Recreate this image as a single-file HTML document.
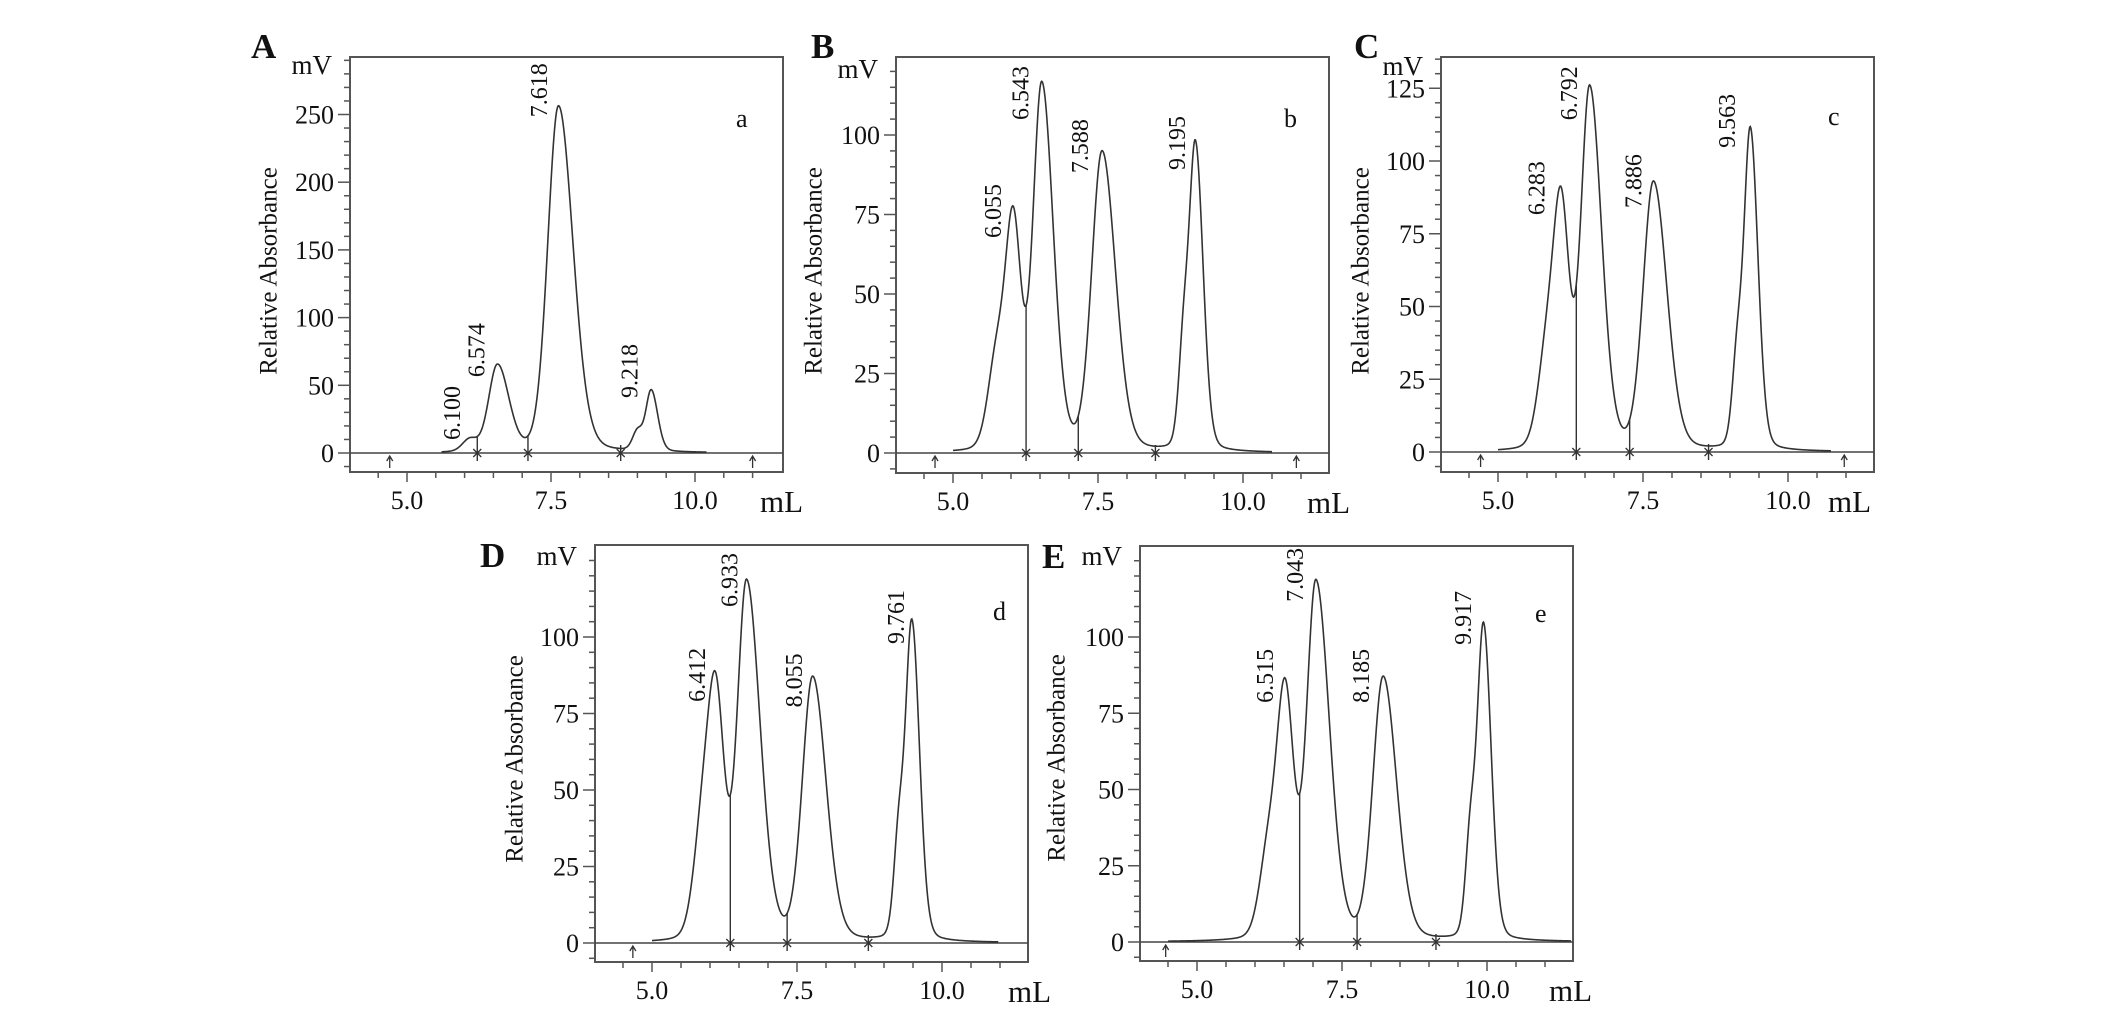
<!DOCTYPE html>
<html><head><meta charset="utf-8"><style>
html,body{margin:0;padding:0;background:#fff;}
svg{display:block;font-family:"Liberation Serif",serif;}
</style></head><body>
<svg id="chart" width="2126" height="1021" viewBox="0 0 2126 1021" xmlns="http://www.w3.org/2000/svg">
<rect x="0" y="0" width="2126" height="1021" fill="#fff"/>
</svg>
<script>
// ---- Panel A data ----
const peakCenterA=[6.09,6.57,7.63,9.0,9.24];
const peakHeightA=[9,64,256,14,45];
const peakWidthA=[0.3,0.36,0.44,0.2,0.22];
const peakTailA=[1,1.3,1.35,1,1.2];
const labelTextA=["6.100","6.574","7.618","9.218"];
const labelXA=[5.78,6.21,7.29,8.86];
const labelYA=[9.6,56,248,40.6];
const crossA=[6.22,7.10,8.71];
const arrowA=[4.7,11.0];
// ---- Panel B data ----
const peakCenterB=[5.75,6.04,6.53,7.57,8.97,9.18];
const peakHeightB=[28,70,115,94,28,96];
const peakWidthB=[0.35,0.32,0.36,0.42,0.2,0.26];
const peakTailB=[1,1,1.3,1.3,1,1.2];
const labelTextB=["6.055","6.543","7.588","9.195"];
const labelXB=[5.69,6.16,7.19,8.86];
const labelYB=[67.6,104.7,88,89];
const crossB=[6.26,7.16,8.49];
const arrowB=[4.69,10.92];
// ---- Panel C data ----
const peakCenterC=[5.83,6.09,6.58,7.68,9.12,9.35];
const peakHeightC=[30,81,124,92,28,110];
const peakWidthC=[0.35,0.33,0.36,0.42,0.2,0.26];
const peakTailC=[1,1,1.35,1.3,1,1.2];
const labelTextC=["6.283","6.792","7.886","9.563"];
const labelXC=[5.66,6.22,7.34,8.95];
const labelYC=[81.4,114,83.8,104.5];
const crossC=[6.35,7.27,8.63];
const arrowC=[4.70,10.97];
// ---- Panel D data ----
const peakCenterD=[5.85,6.1,6.63,7.77,9.25,9.48];
const peakHeightD=[30,78,117,86,30,104];
const peakWidthD=[0.35,0.35,0.38,0.42,0.2,0.26];
const peakTailD=[1,1,1.45,1.3,1,1.2];
const labelTextD=["6.412","6.933","8.055","9.761"];
const labelXD=[5.78,6.34,7.45,9.21];
const labelYD=[78.8,109.8,77,97.7];
const crossD=[6.35,7.33,8.73];
const arrowD=[4.67];
// ---- Panel E data ----
const peakCenterE=[6.22,6.52,7.05,8.21,9.71,9.94];
const peakHeightE=[26,80,117,86,30,103];
const peakWidthE=[0.35,0.35,0.38,0.42,0.2,0.26];
const peakTailE=[1,1,1.45,1.3,1,1.2];
const labelTextE=["6.515","7.043","8.185","9.917"];
const labelXE=[6.17,6.69,7.83,9.59];
const labelYE=[78.4,111.5,78.4,97.4];
const crossE=[6.77,7.76,9.12];
const arrowE=[4.46];

const NS="http://www.w3.org/2000/svg";
const svg=document.getElementById('chart');
function mk(tag,attrs,parent,text){
  const e=document.createElementNS(NS,tag);
  for(const k in attrs)e.setAttribute(k,attrs[k]);
  if(text!==undefined)e.textContent=text;
  (parent||svg).appendChild(e);return e;
}
function signal(x,c,h,w,t){
  let s=0;
  for(let i=0;i<c.length;i++){
    const d=x-c[i];const ww=d>0?w[i]*t[i]:w[i];
    s+=h[i]*(0.85*Math.exp(-2.7726*d*d/(ww*ww))+0.15/(1+4*d*d/(ww*ww)));
  }
  return s;
}
function panel(p){
  const g=mk('g',{});
  
  
  const L=p.left,R=p.left+433,T=p.top,B=p.bottom;
  const xs=v=>L+57+(v-5)*p.xpx;
  const ys=v=>p.zero-v*p.ypx;
  const fr=mk('rect',{x:L,y:T,width:R-L,height:B-T,fill:'none',stroke:'#555','stroke-width':2},g);
  
  for(let v=p.ymin;v<=p.ymax+0.001;v+=p.minor){
    const major=Math.abs(v/p.major-Math.round(v/p.major))<1e-6 && v>=0 && v<=p.majorMax;
    mk('line',{x1:L-(major?12:6),x2:L,y1:ys(v),y2:ys(v),stroke:'#555','stroke-width':1.5},g);
    if(major){
      const t=mk('text',{x:L-16,y:ys(v)+9,'text-anchor':'end','font-size':26,fill:'#111'},g,String(Math.round(v)));
      
    }
  }
  for(let v=4.5;v<=11.01;v+=0.5){
    const major=Math.abs(v-5)<1e-6||Math.abs(v-7.5)<1e-6||Math.abs(v-10)<1e-6;
    mk('line',{x1:xs(v),x2:xs(v),y1:B,y2:B+(major?10:6),stroke:'#555','stroke-width':1.5},g);
    if(major){
      const t=mk('text',{x:xs(v),y:B+37,'text-anchor':'middle','font-size':26,fill:'#111'},g,v.toFixed(1));
      
    }
  }
  const bl=mk('line',{x1:L,x2:R,y1:ys(0),y2:ys(0),stroke:'#444','stroke-width':1.5},g);
  
  let d='';
  for(let x=p.start;x<=p.end+1e-9;x+=0.01){
    const y=signal(x,p.c,p.h,p.w,p.t);
    d+=(d?'L':'M')+xs(x).toFixed(2)+','+ys(y).toFixed(2);
  }
  const cv=mk('path',{d:d,fill:'none',stroke:'#333','stroke-width':1.6},g);
  
  p.cross.forEach(v=>{
    const yv=signal(v,p.c,p.h,p.w,p.t);
    const x=xs(v),y0=ys(0);
    const dl=mk('line',{x1:x,x2:x,y1:Math.min(ys(yv),y0-8),y2:y0+8,stroke:'#333','stroke-width':1.4},g);
    
    mk('path',{d:`M${x-4},${y0-4}L${x+4},${y0+4}M${x-4},${y0+4}L${x+4},${y0-4}`,stroke:'#333','stroke-width':1.3,fill:'none'},g);
  });
  p.arrow.forEach(v=>{
    const x=xs(v),y0=ys(0);
    const a=mk('path',{d:`M${x},${y0+15}L${x},${y0+3}M${x-3},${y0+8}L${x},${y0+3}L${x+3},${y0+8}`,stroke:'#333','stroke-width':1.3,fill:'none'},g);
    
  });
  p.lt.forEach((s,i)=>{
    const x=xs(p.lx[i]),y=ys(p.ly[i]);
    const t=mk('text',{x:0,y:0,transform:`translate(${x+8},${y}) rotate(-90)`,'font-size':24,fill:'#111'},g,s);
    
  });
  const at=mk('text',{x:0,y:0,transform:`translate(${L-p.titleOff},${p.titleY}) rotate(-90)`,'text-anchor':'middle','dominant-baseline':'central','font-size':25,fill:'#111'},g,'Relative Absorbance');
  
  const mv=mk('text',{x:L-18,y:p.mvY,'text-anchor':'end','font-size':27,fill:'#111'},g,'mV');
  
  const ml=mk('text',{x:R-p.mlOff,y:B+40,'font-size':31,fill:'#111'},g,'mL');
  
  const sl=mk('text',{x:R-p.subOff,y:p.subY,'font-size':26,fill:'#111'},g,p.id.toLowerCase());
  
  const pl=mk('text',{x:p.letX,y:p.letY,'font-size':35,'font-weight':'bold',fill:'#111'},g,p.id);
  
}
panel({id:'A',left:350,top:57,bottom:472,zero:453,ypx:1.354,xpx:57.6,ymin:-10,ymax:290,major:50,majorMax:250,minor:10,
  c:peakCenterA,h:peakHeightA,w:peakWidthA,t:peakTailA,start:5.6,end:10.2,cross:crossA,arrow:arrowA,
  lt:labelTextA,lx:labelXA,ly:labelYA,titleOff:81,titleY:271,mvY:74,mlOff:23,subOff:47,subY:127,letX:251,letY:58});
panel({id:'B',left:896,top:57,bottom:473,zero:453,ypx:3.18,xpx:58,ymin:-5,ymax:120,major:25,majorMax:100,minor:5,
  c:peakCenterB,h:peakHeightB,w:peakWidthB,t:peakTailB,start:5.0,end:10.5,cross:crossB,arrow:arrowB,
  lt:labelTextB,lx:labelXB,ly:labelYB,titleOff:82,titleY:271,mvY:78,mlOff:22,subOff:45,subY:127,letX:811,letY:58});
panel({id:'C',left:1441,top:57,bottom:472,zero:452,ypx:2.91,xpx:58,ymin:-5,ymax:135,major:25,majorMax:125,minor:5,
  c:peakCenterC,h:peakHeightC,w:peakWidthC,t:peakTailC,start:5.0,end:10.74,cross:crossC,arrow:arrowC,
  lt:labelTextC,lx:labelXC,ly:labelYC,titleOff:80,titleY:271,mvY:75,mlOff:46,subOff:46,subY:125,letX:1354,letY:58});
panel({id:'D',left:595,top:545,bottom:962,zero:943,ypx:3.06,xpx:58,ymin:-5,ymax:125,major:25,majorMax:100,minor:5,
  c:peakCenterD,h:peakHeightD,w:peakWidthD,t:peakTailD,start:5.0,end:10.97,cross:crossD,arrow:arrowD,
  lt:labelTextD,lx:labelXD,ly:labelYD,titleOff:80,titleY:759,mvY:565,mlOff:20,subOff:35,subY:620,letX:480,letY:567});
panel({id:'E',left:1140,top:546,bottom:961,zero:942,ypx:3.05,xpx:58,ymin:-5,ymax:125,major:25,majorMax:100,minor:5,
  c:peakCenterE,h:peakHeightE,w:peakWidthE,t:peakTailE,start:4.5,end:11.45,cross:crossE,arrow:arrowE,
  lt:labelTextE,lx:labelXE,ly:labelYE,titleOff:83,titleY:758,mvY:565,mlOff:24,subOff:38,subY:622,letX:1042,letY:568});
</script>
</body></html>
